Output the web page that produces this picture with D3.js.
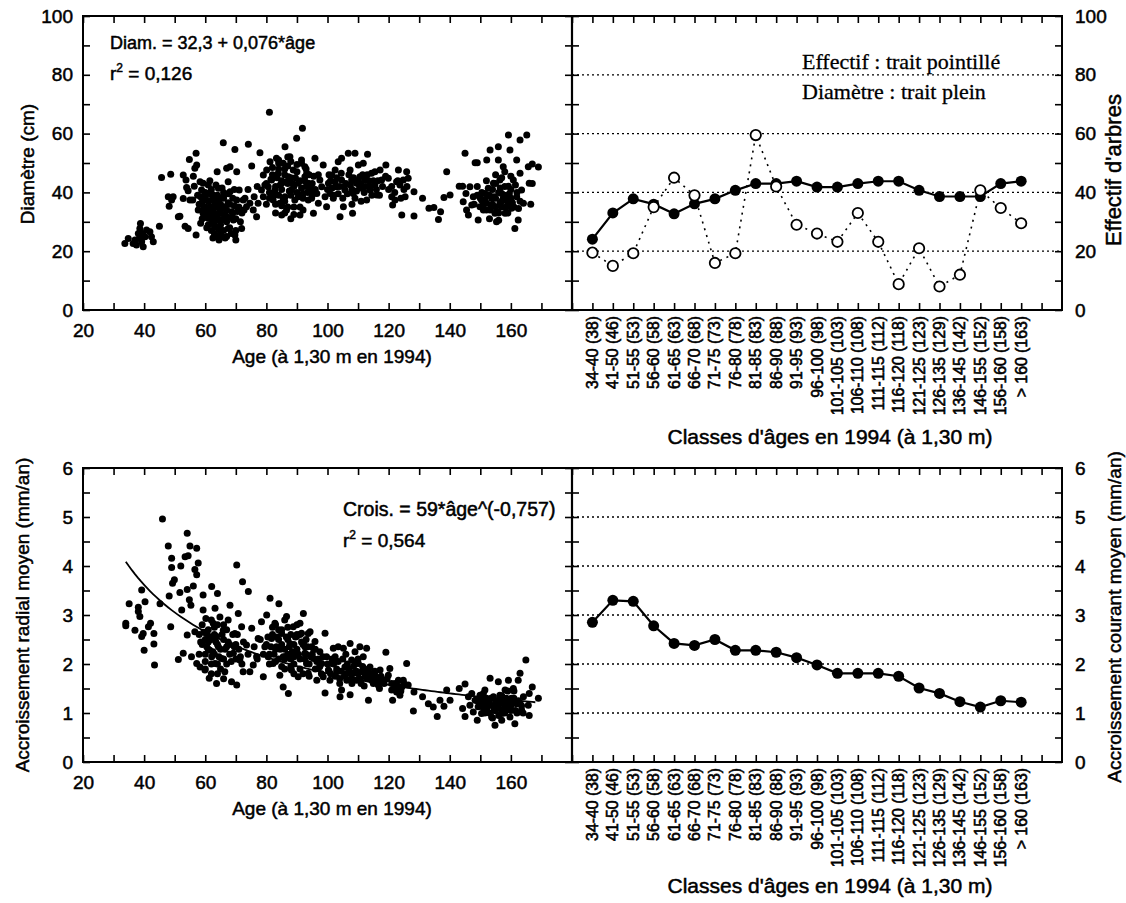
<!DOCTYPE html>
<html><head><meta charset="utf-8">
<script src="https://cdn.jsdelivr.net/npm/d3@7"></script>
<style>
body{margin:0;background:#fff;}
svg{display:block;}
</style></head><body>
<svg id="c" width="1126" height="903"></svg>
<script>
// ---------------- DATA ----------------
const classLabels = ["34-40 (38)","41-50 (46)","51-55 (53)","56-60 (58)","61-65 (63)","66-70 (68)","71-75 (73)","76-80 (78)","81-85 (83)","86-90 (88)","91-95 (93)","96-100 (98)","101-105 (103)","106-110 (108)","111-115 (112)","116-120 (118)","121-125 (123)","126-135 (129)","136-145 (142)","146-155 (152)","156-160 (158)","> 160 (163)"];
const classDiam = [24.1,33,37.8,36,32.7,36.1,37.8,40.7,43,43,43.8,41.8,41.8,43,43.8,43.8,40.7,38.6,38.6,38.6,43,43.8];
const classEffectif = [19.5,15,19.3,35,45,39,16,19.3,59.5,42,29,26,23.2,33,23.2,8.8,21,8,12,40.7,34.7,29.5];
const classCrois = [2.85,3.3,3.28,2.78,2.42,2.38,2.5,2.28,2.28,2.24,2.13,1.98,1.81,1.81,1.81,1.75,1.51,1.4,1.23,1.12,1.25,1.22];

const ageTicks = [20,40,60,80,100,120,140,160];
const diamTicks = [0,20,40,60,80,100];
const croisTicks = [0,1,2,3,4,5,6];

const fitA = 59, fitB = -0.757;   // Crois. = 59*age^(-0,757)

// tree scatter: [age, diameter]
const treeDiam = [
[33.7,22.6],[34.8,24.3],[36.4,22.6],[37,23.8],[37.5,22.1],[38.1,26],[38.6,27.7],[38.8,29.4],[39.2,23.2],[39.7,21.5],[40.3,24.9],[40.8,27.2],[41.9,26.6],[42.4,24.9],[43,23.2],[45,28.5],[38.4,24.3],[39.5,26],
[45.7,45.1],[48.7,46.2],[47.9,38.5],[48.2,35.3],[49,37.4],[49.5,38.5],[51.2,31.7],[51.7,31.9],[52.8,45.9],[53.7,44.2],[53.9,41.7],[54.4,40.6],[54.8,51.2],[55,37.4],[53.4,28.5],[54.4,27.7],[57,53.3],[57.2,49.3],[56.6,48.2],[56.1,45.5],[56.4,42.1],[57,25.5],[55.9,37.4],[52.8,37.9],
[57.7,34],[58.3,43.6],[58.8,40.8],[58.8,36.3],[59.3,32.9],[59.3,43.1],[59.9,39.1],[60.4,37.4],[60.4,34],[61,31.2],[61,42.5],[61.5,35.1],[61.5,32.3],[62.1,29.4],[62.1,37.4],[62.6,39.1],[62.6,32.9],[63.2,28.3],[63.2,35.1],[63.7,31.2],[63.7,24.9],[63.9,47],[64.3,41.4],[64.3,37.4],[64.8,33.4],[64.8,27.2],[65.3,30.6],[65.3,24.9],[65.9,56.9],[65.9,38.5],[66.4,35.1],[67,48.2],[67,31.7],[67.5,43.6],[67.5,27.7],[68.1,40.2],[68.1,48.7],[68.6,33.4],[69.2,30.6],[69.7,54.6],[69.7,25.5],[70,23.8],[70.3,47],[70.3,37.4],[71.1,40.8],[71.9,27.7],[72.4,37.4],[72.7,34],[73.5,35.1],[74.1,56.4],[74.6,36.3],[75.2,49],[75.7,34],[76.8,31.7],[77.3,36.3],[77.9,53.5],[78.4,40.8],[79,45.9],[79,38.5],[79.5,42.5],[80.1,47.6],[81,67.3],[80.6,41.9],[81.2,50.4],[81.7,44.2],[82.2,37.4],[82.8,40.8],[83.3,51.6],[83.9,46.5],[84.4,36.3],[85,32.3],[85,43.1],[85.5,49.9],[86.1,55.5],[86.1,38.5],[86.6,34],[87.2,45.3],[87.7,52.1],[88.2,40.8],[88.8,47.6],[89.3,37.4],[89.9,58.4],[90.4,43.1],[91,32.3],[91.5,49.9],[91.8,61.8],[92,39.6],[92.6,45.3],[93.7,37.4],
[58,36],[59,38],[60,35],[60,33],[61,37],[61,34],[62,31],[62,35],[63,33],[63,30],[63,37],[64,32],[64,28],[64,35],[65,33],[65,29],[65,36],[66,31],[66,27],[66,38],[67,34],[67,30],[68,36],[68,28],[69,33],[69,38],[70,31],[70,27],[71,35],[72,33],[60,40],[62,41],[64,39],[66,40],[59,31],[61,29],[63,26],[65,26],[67,25],[62,27],
[58.5,38.5],[59.5,34.5],[60.5,31.5],[61.5,39.5],[62.5,33.5],[63.5,36.5],[64.5,30.5],[65.5,34.5],[66.5,32.5],[67.5,36.5],[68.5,31.5],[69.5,35.5],[70.5,33.5],[71.5,30],[60.5,28],[62.5,24.5],[64.5,23.8],[66.5,24.5],[68.5,26],[61.5,44],[63.5,42.5],[65.5,41.5],[67.5,39.5],[69.5,41],[57.5,39],[58.5,29.5],[73,38],[74,41],[76,38.5],[77,42],
[80,43],[81,40],[82,46],[83,42],[84,39],[84,48],[85,44],[85,41],[86,46],[86,37],[87,43],[87,49],[88,39],[88,45],[89,42],[89,35],[90,47],[90,40],[91,44],[92,38],[93,42],[94,46],[95,43],[96,41],[83,36],[86,33],[88,31],[84,51],[87,52],[91,35],
[81.5,44.5],[82.5,39],[83.5,45],[84.5,42.5],[85.5,38],[86.5,43.5],[87.5,40.5],[88.5,43],[89.5,45],[90.5,38.5],[91.5,41.5],[92.5,44],[93.5,40],[94.5,42],[95.5,45.5],[82,48.5],[84,50],[86,48],[88,50.5],[90,49.5],[83,33],[85,35.5],[87,35],[89,32.5],[92,34],[81,38],[80,36],[93,48],[95,39],[97,46],
[91.5,51],[92.6,48.7],[93.2,46.5],[93.7,43.1],[94.3,40.8],[94.8,38],[95.4,32.9],[95.9,51.6],[96.5,39.6],[97,36.3],[97.5,44.2],[98.1,41.9],[98.6,49.3],[99.2,38.5],[99.7,35.1],[100.3,43.1],[100.8,39.6],[101.4,45.9],[101.9,38],[102.5,47.6],[103,41.9],[103.5,50.4],[104.1,31.7],[104.6,51.6],[104.6,44.2],[105.2,35.1],[105.7,40.8],[106.8,53.3],[107.4,47.6],[107.9,44.2],[108.2,32.9],[108.4,39.6],[109,53.3],[109.5,43.1],[110.1,49.3],[110.6,45.3],[111.2,41.4],[111.7,49.9],[112.3,44.2],[112.8,37.4],[113.1,53],[113.9,40.8],[114.4,46.5],[115.5,42.5],[116.1,39.1],[117.2,47.6],[117.7,44.2],[119.1,49.3],[119.9,44.8],[121,38.5],[121.3,35.7],[122.1,37.4],[122.6,43.6],[123.2,47.6],[123.7,42.5],[124.3,32.3],[124.8,44.2],[125.4,38.5],[125.9,47],[126.4,44.8],[128.3,40.2],[128.3,32],
[100,41],[101,44],[102,39],[103,45],[104,42],[105,38],[106,43],[107,46],[108,41],[109,38],[110,44],[111,43],[112,40],[113,46],[114,42],[115,44],[116,41],[117,39],[108,36],[111,37],[121,42],[122,40],[123,44],[124,38],[125,41],[126,42],
[100.5,46],[101.5,41.5],[102.5,43.5],[103.5,39.5],[104.5,46.5],[105.5,42],[106.5,39.5],[107.5,42.5],[108.5,45],[109.5,40.5],[110.5,42],[111.5,46],[112.5,42],[113.5,44],[114.5,39],[115.5,47],[116.5,44],[118,42],[119,45.5],[120,41],
[131.1,38],[133.2,34.6],[134.8,34.9],[136.3,30.8],[137,33.4],[138.1,38.3],[139,47],[140.1,39.1],[143.1,42.1],[144.2,42.1],[144.4,36.8],[145,53.3],[145.3,39.6],[145.5,34],[146.1,32.3],[146.6,41.9],[147.2,35.7],[147.7,38.5],[148.3,50.1],[149,50.1],[149.3,30.6],[149.9,35.1],[150.4,37.4],[151,34],[151.5,39.6],[152.1,51],[152.1,36.3],[152.6,41.4],[153.2,54.4],[153.2,34],[153.7,38],[154.3,43.1],[154.8,32.9],[155.3,30],[155.9,55.5],[155.9,51],[156.4,44.2],[156.4,36.3],[157,39.6],[157.5,48.7],[158.1,32.9],[158.6,37.4],[159.2,59.5],[159.2,42.1],[159.7,54.4],[160.2,34.6],[160.8,44.2],[161.3,27.7],[161.9,51],[161.9,38.5],[162.4,30.6],[163,57.8],[163,46.5],[163.5,40.8],[164.1,36.3],[165.2,59.5],[165.7,48.7],[166,43.1],[167,49.7],[169,48.6],[167,43],[166.5,36],
[150,38],[151,36],[152,34],[153,39],[154,36],[154,41],[155,35],[155,38],[156,33],[156,40],[157,37],[157,35],[158,39],[158,42],[159,36],[159,33],[160,38],[160,41],[161,35],[162,40],[149,42],[163,37],[152,44],[157,45],[155,46],
[150.5,40],[151.5,37.5],[152.5,39],[153.5,35.5],[154.5,38.5],[155.5,33.5],[156.5,41.5],[157.5,38],[158.5,35],[159.5,39.5],[160.5,36.5],[161.5,42.5],[148,36],[149,39],[162.5,34.5],[155,43],[158,47],[160,45.5],[153,31],[156,30.5]
];

// tree scatter: [age, mean radial growth mm/an]
const treeCrois = [
[34,2.83],[34,2.78],[35.1,3.23],[37,2.69],[38.1,3.16],[38.1,3.07],[38.6,2.97],[39.2,3.51],[39.2,2.56],[39.7,2.62],[40.3,3.27],[40,2.28],[41.4,2.76],[42.1,2.83],[43.2,2.62],[43.2,2.41],[43.4,1.98],[45.2,3.23],[46,4.96],[47.9,4.41],[48.7,2.76],[48.2,3.39],[49,4.16],[49,3.97],[49.3,3.65],[49.9,3.72],[51.2,2.09],[51.7,3.46],[52,4],[52.3,3.1],[52.8,2.22],[53.4,4.19],[54.1,4.67],[54.1,3.52],[54.1,2.59],[54.4,4.21],[54.8,3.31],[55,4.41],[55.3,3.2],[55.5,2.15],[56.1,3.59],[56.6,3.93],[57.2,4.36],[57.2,3.82],[57.7,4.06],[56.6,2.66],[57.2,2.01],[58.3,1.94],[59.3,3.41],[59.3,3.1],[59.9,1.88],[60.2,2.93],[60.4,2.62],[61,2.45],[61.3,1.71],[61.5,2.28],[62.1,3.58],[62.1,2.15],[62.6,2.83],[63.2,3.14],[63.2,2.01],[63.7,1.6],[63.7,2.56],[64,3.44],[64.3,2.35],[64.8,2.96],[65.3,2.11],[65.9,2.69],[66.4,1.84],[67,2.35],[67.5,2.9],[68.1,3.2],[68.6,1.64],[69.2,2.22],[69.7,2.62],[70.3,4.02],[70.3,1.57],[70.8,3.03],[71.3,2.08],[71.9,2.76],[72.2,3.68],[72.4,1.84],[73.5,2.39],[74.1,3.48],[74.6,1.84],[75.2,2.73],[75.7,1.98],[76.8,2.15],[77.3,2.52],[78.4,2.86],[79,1.74],[79.5,2.35],[80.1,3],[80.6,2.15],[81.2,3.34],[81.7,2.52],[82.2,2.01],[82.8,2.83],[83.3,2.35],[84.1,3.23],[84.4,1.77],[85,2.62],[85.5,1.53],[86.1,2.15],[86.6,2.97],[87.2,1.4],[87.7,2.42],[88.2,1.88],[88.8,2.76],[89.3,2.22],[89.9,2.56],[90.4,1.74],[91,2.83],[92.1,3.03],[92.6,2.35],[93.2,2.01],[93.7,2.62],
[58,2.6],[59,2.4],[60,2.5],[60,2.2],[61,2.7],[61,2.3],[62,2.5],[62,2.0],[63,2.6],[63,2.2],[64,2.4],[64,2.8],[65,2.3],[65,1.9],[66,2.5],[66,2.1],[67,2.7],[67,2.0],[68,2.4],[68,2.2],[69,2.6],[70,2.1],[70,2.4],[71,2.3],[72,2.0],[59,2.8],[62,2.9],[64,1.8],[66,1.7],[60,1.9],
[58.5,2.45],[59.5,2.65],[60.5,2.35],[61.5,2.55],[62.5,2.25],[63.5,2.45],[64.5,2.15],[65.5,2.6],[66.5,2.3],[67.5,2.45],[68.5,2.05],[69.5,2.35],[70.5,2.6],[71.5,2.15],[60,2.05],[62,1.8],[64,2.0],[58,2.2],[66,2.8],[63,2.75],[72.5,2.45],[74,2.2],[76,2.35],[77,2.1],[78,2.5],
[80,2.4],[81,2.2],[82,2.6],[83,2.3],[84,2.5],[84,2.1],[85,2.4],[85,2.7],[86,2.3],[86,1.9],[87,2.5],[87,2.2],[88,2.1],[88,2.6],[89,2.4],[89,2.0],[90,2.3],[90,2.6],[91,2.1],[92,2.4],[93,2.2],[94,2.0],[95,2.2],[96,1.9],[97,2.1],[98,1.8],[83,2.8],[86,2.9],[89,1.8],[91,1.9],
[80.5,2.55],[81.5,2.35],[82.5,2.2],[83.5,2.55],[84.5,2.3],[85.5,2.15],[86.5,2.55],[87.5,2.35],[88.5,2.25],[89.5,2.55],[90.5,2.2],[91.5,2.45],[92.5,2.1],[93.5,2.35],[94.5,2.15],[95.5,2.3],[96.5,2.05],[97.5,1.95],[98.5,2.15],[82,2.75],[84,2.7],[87,2.75],[90,2.8],[85,1.95],[88,1.95],[92,1.8],[94,1.75],[81,2.0],[79,2.2],[83,2.05],[86,2.1],[89,2.15],[91,2.6],[93,2.5],[96,2.3],
[91.5,2.63],[92.1,2.42],[92.6,2.22],[93.2,2.01],[93.7,1.81],[94.3,2.66],[94.8,2.35],[95.4,2.11],[95.9,2.46],[96.5,1.67],[97,1.91],[97.5,2.25],[98.1,2.01],[98.6,1.74],[99.2,2.63],[99.2,1.41],[99.7,2.15],[100.3,1.88],[100.8,1.67],[101.4,2.01],[101.9,2.32],[102.5,2.15],[103,1.84],[103.5,2.35],[104.1,1.33],[104.6,1.47],[105.2,2.32],[105.7,1.94],[106.3,1.67],[107.4,1.37],[107.4,2.42],[107.9,2.08],[108.4,1.81],[109,2.25],[109.5,1.67],[110.1,2.01],[110.6,2.35],[111.2,1.84],[111.7,2.15],[112.3,1.74],[112.8,2.32],[113.4,1.26],[113.9,1.94],[114.4,1.67],[115.5,1.77],[116.6,1.57],[117.2,1.88],[117.7,1.67],[119.1,2.24],[119.9,1.77],[120.4,1.91],[121,1.47],[121.3,1.26],[122.1,1.6],[122.6,1.43],[123.2,1.67],[123.7,1.36],[124.3,1.53],[124.8,1.67],[125.9,2.01],[126.4,1.57],[128.1,1.04],[128.3,1.43],
[100,2.0],[101,1.8],[102,2.0],[103,1.9],[104,1.7],[105,2.1],[106,1.8],[107,1.9],[108,1.7],[109,2.0],[110,1.8],[111,1.6],[112,1.9],[113,1.7],[114,1.8],[115,1.6],[116,1.7],[117,1.5],[121,1.6],[122,1.5],[123,1.55],[124,1.45],[125,1.6],
[100.5,1.85],[101.5,2.1],[102.5,1.75],[103.5,2.05],[104.5,1.85],[105.5,1.75],[106.5,2.0],[107.5,1.8],[108.5,1.95],[109.5,1.85],[110.5,1.7],[111.5,1.95],[112.5,1.8],[113.5,1.9],[114.5,1.75],[115.5,1.85],[116.5,1.65],[117.5,1.75],[118.5,1.6],[119.5,1.7],[106,2.2],[110,2.1],[104,1.6],[108,1.6],[112,1.55],
[131.1,1.33],[133,1.19],[134.6,1.12],[135.9,0.93],[136.8,1.26],[138.1,1.14],[139,1.47],[140.1,1.26],[143.1,1.5],[144.2,1.09],[145,1.59],[145,0.93],[146.1,1.33],[146.6,1.16],[147.2,1.4],[147.7,1.02],[148.3,1.26],[149,0.85],[149.3,1.13],[149.9,1.36],[150.4,0.99],[151,1.19],[151.5,1.47],[152.1,1.06],[152.6,1.26],[153.2,1.71],[153.7,0.92],[154.3,1.33],[154.8,0.75],[155.3,1.13],[155.9,1.64],[156.4,1.36],[157,0.99],[157.5,1.23],[158.1,1.47],[158.6,1.09],[159.2,1.67],[159.7,0.92],[160.2,1.3],[160.8,1.5],[161.3,0.78],[161.9,1.19],[162.4,1.67],[163,1.81],[163.5,1.06],[164.1,1.33],[164.9,2.08],[165.7,1.16],[166,1.4],[167,1.53],[169,1.3],[166,0.95],
[150,1.2],[151,1.1],[152,1.3],[153,1.0],[153,1.2],[154,1.15],[155,1.05],[155,1.25],[156,1.1],[156,0.95],[157,1.2],[157,1.35],[158,1.0],[158,1.15],[159,1.25],[160,1.05],[160,1.15],[161,1.3],[162,1.0],[149,1.25],[163,1.2],
[150.5,1.3],[151.5,1.0],[152.5,1.15],[153.5,1.3],[154.5,1.05],[155.5,1.2],[156.5,1.3],[157.5,1.05],[158.5,1.3],[159.5,1.1],[160.5,1.2],[161.5,1.05],[162.5,1.25],[163.5,1.15],[154,0.9],[157,0.85],[151,1.4],[159,1.45],[161,1.45],[164,1.0]
];

// ---------------- DRAWING ----------------
const SANS = '"Liberation Sans", Arial, Helvetica, sans-serif';
const SERIF = '"Liberation Serif", "Times New Roman", serif';
const svg = d3.select("#c");
svg.append("rect").attr("width",1126).attr("height",903).attr("fill","#fff");

const X0 = 83, X1 = 572, X2 = 1062;
const T0 = 16, T1 = 310, B0 = 468, B1 = 762;

const xAge = d3.scaleLinear().domain([20,180]).range([X0,X1]);
const xCat = d3.scaleLinear().domain([0,24]).range([X1,X2]);
const yDiam = d3.scaleLinear().domain([0,100]).range([T1,T0]);
const yCrois = d3.scaleLinear().domain([0,6]).range([B1,B0]);

function heavy(sel, w){ return sel.attr("stroke","#000").attr("stroke-width", w==null?0.5:w); }

function put(gen, tx, ty, fs){
  const g = svg.append("g").attr("transform",`translate(${tx},${ty})`).call(gen);
  g.select(".domain").remove();
  g.selectAll(".tick line").attr("stroke","#000").attr("stroke-width",1.6);
  heavy(g.selectAll("text").attr("font-family",SANS).attr("font-size",fs||19).attr("fill","#000"));
  return g;
}

function panelPair(yScale, y0, y1, yTickStep, yLabels, gridVals){
  const yTicks = d3.range(yScale.domain()[0], yScale.domain()[1] + 1e-9, yTickStep);
  const ageMinor = d3.range(20, 181, 10);
  const catTicks = d3.range(1, 24);
  put(d3.axisBottom(xAge).tickValues(ageMinor).tickSizeInner(-7).tickSizeOuter(0).tickFormat(""), 0, y1);
  put(d3.axisTop(xAge).tickValues(ageMinor).tickSizeInner(-7).tickSizeOuter(0).tickFormat(""), 0, y0);
  put(d3.axisBottom(xAge).tickValues(ageTicks).tickSize(0).tickPadding(14).tickFormat(d3.format("d")), 0, y1);
  put(d3.axisLeft(yScale).tickValues(yTicks).tickSizeInner(-7).tickSizeOuter(0).tickFormat(""), X0, 0);
  put(d3.axisLeft(yScale).tickValues(yLabels).tickSize(0).tickPadding(10).tickFormat(d3.format("d")), X0, 0);
  put(d3.axisLeft(yScale).tickValues(yTicks).tickSizeInner(7).tickSizeOuter(0).tickFormat(""), X1, 0);
  put(d3.axisRight(yScale).tickValues(yTicks).tickSizeInner(7).tickSizeOuter(0).tickFormat(""), X1, 0);
  put(d3.axisRight(yScale).tickValues(yTicks).tickSizeInner(-7).tickSizeOuter(0).tickFormat(""), X2, 0);
  put(d3.axisRight(yScale).tickValues(yLabels).tickSize(0).tickPadding(13).tickFormat(d3.format("d")), X2, 0);
  put(d3.axisBottom(xCat).tickValues(catTicks).tickSizeInner(-7).tickSizeOuter(0).tickFormat(""), 0, y1);
  put(d3.axisTop(xCat).tickValues(catTicks).tickSizeInner(-7).tickSizeOuter(0).tickFormat(""), 0, y0);
  svg.append("g").selectAll("line").data(gridVals).join("line")
    .attr("x1",X1).attr("x2",X2).attr("y1",d=>yScale(d)).attr("y2",d=>yScale(d))
    .attr("stroke","#000").attr("stroke-width",1.3).attr("stroke-dasharray","2,3");
  svg.append("rect").attr("x",X0).attr("y",y0).attr("width",X2-X0).attr("height",y1-y0)
    .attr("fill","none").attr("stroke","#000").attr("stroke-width",2);
  svg.append("line").attr("x1",X1).attr("x2",X1).attr("y1",y0).attr("y2",y1)
    .attr("stroke","#000").attr("stroke-width",2.2);
  heavy(svg.append("g").selectAll("text").data(classLabels).join("text")
    .attr("transform",(d,i)=>`translate(${xCat(i+1)+5.5},${y1+6}) rotate(-90)`)
    .attr("text-anchor","end").attr("font-family",SANS).attr("font-size",15.8)
    .text(d=>d), 0.6);
}

panelPair(yDiam, T0, T1, 10, diamTicks, [20,40,60,80]);
panelPair(yCrois, B0, B1, 0.5, croisTicks, [1,2,3,4,5]);

// ---- top-left scatter
svg.append("g").selectAll("circle").data(treeDiam).join("circle")
  .attr("cx",d=>xAge(d[0])).attr("cy",d=>yDiam(d[1])).attr("r",3.5).attr("fill","#000");

// ---- bottom-left scatter + fit
svg.append("g").selectAll("circle").data(treeCrois).join("circle")
  .attr("cx",d=>xAge(d[0])).attr("cy",d=>yCrois(d[1])).attr("r",3.5).attr("fill","#000");
const fitAges = d3.range(34, 168.5, 1);
svg.append("path").datum(fitAges)
  .attr("d", d3.line().x(a=>xAge(a)).y(a=>yCrois(fitA*Math.pow(a,fitB))))
  .attr("fill","none").attr("stroke","#000").attr("stroke-width",1.8);

// ---- top-right series
const idx = classLabels.map((d,i)=>i);
svg.append("path").datum(idx)
  .attr("d", d3.line().x(i=>xCat(i+1)).y(i=>yDiam(classEffectif[i])))
  .attr("fill","none").attr("stroke","#000").attr("stroke-width",1.6).attr("stroke-dasharray","2,5");
svg.append("path").datum(idx)
  .attr("d", d3.line().x(i=>xCat(i+1)).y(i=>yDiam(classDiam[i])))
  .attr("fill","none").attr("stroke","#000").attr("stroke-width",2.2);
svg.append("g").selectAll("circle").data(idx).join("circle")
  .attr("cx",i=>xCat(i+1)).attr("cy",i=>yDiam(classDiam[i])).attr("r",5.5).attr("fill","#000");
svg.append("g").selectAll("circle").data(idx).join("circle")
  .attr("cx",i=>xCat(i+1)).attr("cy",i=>yDiam(classEffectif[i])).attr("r",5.2)
  .attr("fill","#fff").attr("stroke","#000").attr("stroke-width",1.8);

// ---- bottom-right series
svg.append("path").datum(idx)
  .attr("d", d3.line().x(i=>xCat(i+1)).y(i=>yCrois(classCrois[i])))
  .attr("fill","none").attr("stroke","#000").attr("stroke-width",2.2);
svg.append("g").selectAll("circle").data(idx).join("circle")
  .attr("cx",i=>xCat(i+1)).attr("cy",i=>yCrois(classCrois[i])).attr("r",5.5).attr("fill","#000");

// ---- texts
function txt(x,y,s,opts={}){
  const t = svg.append("text").attr("x",x).attr("y",y)
    .attr("font-family",opts.font||SANS).attr("font-size",opts.fs||19)
    .attr("text-anchor",opts.anchor||"start").attr("fill","#000").text(s);
  if (!opts.font) heavy(t);
  else heavy(t, 0.3);
  return t;
}
function rtxt(x,y,s,fs){
  heavy(svg.append("text").attr("transform",`translate(${x},${y}) rotate(-90)`)
    .attr("font-family",SANS).attr("font-size",fs||19).attr("text-anchor","middle").attr("fill","#000").text(s));
}
function r2(x,y,val){
  const t = svg.append("text").attr("x",x).attr("y",y).attr("font-family",SANS).attr("font-size",19).attr("fill","#000");
  heavy(t);
  t.append("tspan").text("r");
  t.append("tspan").attr("dy",-8).attr("font-size",12).text("2");
  t.append("tspan").attr("dy",8).text(" = " + val);
}

txt(110,49,"Diam. = 32,3 + 0,076*âge",{fs:18});
r2(110,80,"0,126");
txt(343,516,"Crois. = 59*âge^(-0,757)",{fs:19.5});
r2(343,547,"0,564");
txt(802,69,"Effectif : trait pointillé",{font:SERIF,fs:22});
txt(802,99,"Diamètre : trait plein",{font:SERIF,fs:22});

txt(332,363,"Age (à 1,30 m en 1994)",{anchor:"middle"});
txt(332,815,"Age (à 1,30 m en 1994)",{anchor:"middle"});
txt(830,444,"Classes d'âges en 1994 (à 1,30 m)",{anchor:"middle",fs:21});
txt(830,893,"Classes d'âges en 1994 (à 1,30 m)",{anchor:"middle",fs:21});
rtxt(34,164,"Diamètre (cm)");
rtxt(29,615,"Accroissement radial moyen (mm/an)");
rtxt(1121,170,"Effectif d'arbres",22);
rtxt(1121,617,"Accroissement courant moyen (mm/an)");
</script>
</body></html>
